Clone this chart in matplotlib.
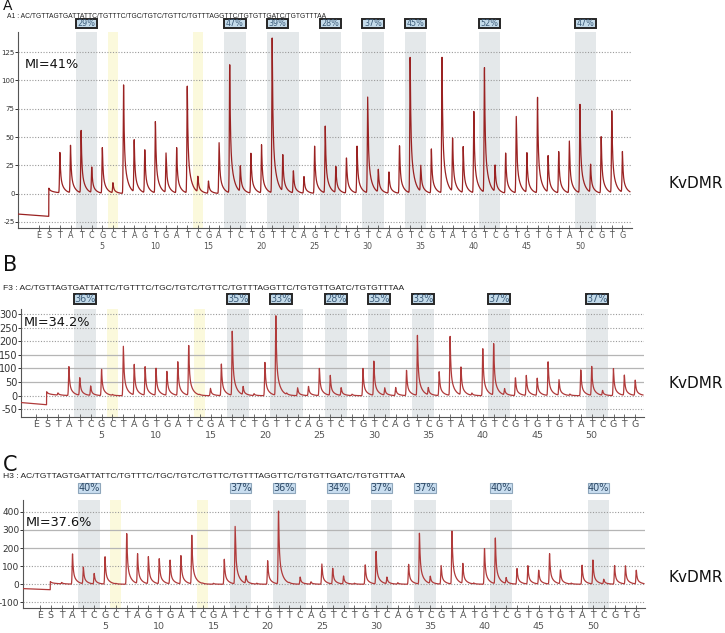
import numpy as np
import matplotlib
matplotlib.use("Agg")
import matplotlib.pyplot as plt
from matplotlib.patches import Rectangle
import matplotlib.transforms as mtransforms

plt.rcParams["axes.unicode_minus"] = False

# dispensation order after E (enzyme) and S (substrate)
dispensation = list("TATCGCTAGTGATCGATCTGTTCAGTCTGTCAGTCGTATGTCGTGTGTATCGTG")
positions = np.arange(1, len(dispensation) + 1)

# CpG sites (first and last dispensation of each shaded block) and bisulfite controls
cpg_sites = [(3, 4), (17, 18), (21, 23), (26, 27), (30, 31), (34, 35), (41, 42), (50, 51)]
control_sites = [6, 14]

sequence = "AC/TGTTAGTGATTATTC/TGTTTC/TGC/TGTC/TGTTC/TGTTTAGGTTC/TGTGTTGATC/TGTGTTTAA"
sample_names = ["A1", "F3", "H3"]
panel_letters = ["A", "B", "C"]
mi_labels = ["MI=41%", "MI=34.2%", "MI=37.6%"]

meth_a = [29, 47, 39, 28, 37, 45, 52, 47]
meth_b = [36, 35, 33, 28, 35, 33, 37, 37]
meth_c = [40, 37, 36, 34, 37, 37, 40, 40]

peaks_a = [36, 42, 55, 23, 41, 9, 96, 46, 39, 64,
           35, 40, 95, 14, 11, 45, 113, 23, 36, 43,
           137, 32, 20, 15, 42, 59, 23, 32, 42, 85,
           20, 19, 43, 121, 23, 39, 122, 48, 41, 72,
           110, 24, 36, 68, 35, 85, 33, 37, 46, 78,
           25, 51, 73, 36]
peaks_b = [8, 106, 66, 35, 96, 3, 182, 113, 106, 99,
           90, 124, 182, 2, 27, 117, 238, 30, 7, 123,
           291, 5, 29, 34, 101, 73, 29, 5, 100, 128,
           27, 30, 94, 220, 27, 88, 216, 104, 8, 174,
           191, 23, 67, 74, 63, 126, 57, 5, 96, 106,
           18, 100, 74, 57]
peaks_c = [8, 169, 92, 59, 151, 2, 287, 164, 151, 142,
           131, 158, 271, 2, 5, 138, 319, 42, 5, 131,
           411, 3, 40, 13, 112, 88, 44, 5, 110, 179,
           37, 8, 110, 284, 40, 103, 298, 110, 5, 202,
           252, 33, 88, 101, 77, 169, 77, 5, 105, 133,
           26, 103, 101, 77]

# signal before substrate (start, end) and substrate peak
pre_levels = [(-18, -20), (-25, -33), (-24, -30)]
substrate_peaks = [5, 15, 15]

yticks_all = [[-25, 0, 25, 50, 75, 100, 125],
              [-50, 0, 50, 100, 150, 200, 250, 300],
              [-100, 0, 100, 200, 300, 400]]
solid_grid = [[], [50, 100, 150], [200, 300]]
xlims = [(-2.95, 54.9), (-2.4, 54.8), (-2.57, 54.8)]
ylims = [(-30.3, 142.7), (-78, 318), (-131, 465)]

W, H = 725, 633
fig = plt.figure(figsize=(W / 100, H / 100), dpi=100)


def px_rect(l, t, r, b):
    return [l / W, 1 - b / H, (r - l) / W, (b - t) / H]


axes_px = [(18, 32, 632, 228), (21, 309, 644, 417), (23, 500, 645, 608)]
header_y = [16, 288, 477]
header_x = [7, 3, 3]
letter_y = [9.5, 271, 471]
letter_size = [10, 15, 15]
mi_xy = [(25, 64), (24, 322), (26, 522)]
kv_y = [183, 383, 577]
head_size = [4.9, 6.1, 6.1]
tick_size = [5, 7, 6.5]
xlab_size = [5.8, 6.8, 6.8]
box_size = [5.8, 7, 7]
trace_cols = ["#9a2222", "#b03a3a", "#b03a3a"]


def peak_shape(t):
    rise = np.exp(-(t / 0.05) ** 2)
    fall = 0.6 * np.exp(-t / 0.06) + 0.4 * np.exp(-t / 0.32)
    return np.where(t < 0, rise, fall)


for i, peaks in enumerate([peaks_a, peaks_b, peaks_c]):
    ax = fig.add_axes(px_rect(*axes_px[i]))
    x0, x1 = xlims[i]
    ax.set_xlim(x0, x1)
    ax.set_ylim(*ylims[i])

    # shaded CpG and control columns
    for a, b in cpg_sites:
        ax.axvspan(a - 0.5, b + 0.5, color="#e4e8ea", zorder=0, lw=0)
    for c in control_sites:
        ax.axvspan(c - 0.5, c + 0.5, color="#fbf9dc", zorder=0, lw=0)

    # grid
    for yv in yticks_all[i]:
        if yv in solid_grid[i]:
            ax.axhline(yv, color="#b5b5b5", lw=0.9, zorder=1)
        else:
            ax.axhline(yv, color="#9a9a9a", lw=0.8, ls=(0, (1, 1.5)), zorder=1)

    # pyrogram trace
    xs = np.linspace(x0 + 0.05, 54.7, 5000)
    ys = np.zeros_like(xs)
    pre0, pre1 = pre_levels[i]
    before = xs < -0.05
    ys[before] = np.interp(xs[before], [x0, -0.05], [pre0, pre1])
    s = xs - (-0.05)
    ys += substrate_peaks[i] * np.where(s >= 0, 0.4 * np.exp(-s / 0.1) + 0.6 * np.exp(-s / 0.8), 0)
    for p, h in zip(positions, peaks):
        ys += h * peak_shape(xs - p)
    ax.plot(xs, ys, color=trace_cols[i], lw=0.9, zorder=3)

    # percentage boxes
    bt = mtransforms.blended_transform_factory(ax.transData, ax.transAxes)
    ax_t, ax_b = axes_px[i][1], axes_px[i][3]
    ah = ax_b - ax_t
    if i == 0:
        y_lo, y_hi = (ax_b - 28) / ah, (ax_b - 19) / ah
    elif i == 1:
        y_lo, y_hi = (ax_b - 304) / ah, (ax_b - 294) / ah
    else:
        y_lo, y_hi = (ax_b - 493) / ah, (ax_b - 483) / ah
    meth = [meth_a, meth_b, meth_c][i]
    for (a, b), m in zip(cpg_sites, meth):
        if i < 2:
            fc, ec, lw, tc = "#c4dbea", "#262626", 1.4, "#3e5d7a"
        else:
            fc, ec, lw, tc = "#c9def0", "#8ea6bb", 0.8, "#2c4865"
        r = Rectangle((a - 0.5, y_lo), 2, y_hi - y_lo, transform=bt,
                      facecolor=fc, edgecolor=ec, lw=lw, clip_on=False, zorder=5)
        ax.add_patch(r)
        ax.text(a + 0.5, (y_lo + y_hi) / 2, f"{m}%", transform=bt, ha="center",
                va="center", fontsize=box_size[i], color=tc, zorder=6)

    # axes styling
    for side in ["top", "right"]:
        ax.spines[side].set_visible(False)
    ax.spines["left"].set_color("#555555")
    ax.spines["bottom"].set_color("#555555")
    ax.set_yticks(yticks_all[i])
    ax.tick_params(axis="y", labelsize=tick_size[i], colors="#333333", length=2, width=0.7, pad=0.5)
    xt = [-1, 0] + list(positions)
    xl = ["E", "S"] + [f"{d}\n{p}" if p % 5 == 0 else d for d, p in zip(dispensation, positions)]
    ax.set_xticks(xt)
    ax.set_xticklabels(xl, fontsize=xlab_size[i], color="#555555", linespacing=1.15)
    ax.tick_params(axis="x", direction="inout", length=4, width=0.6, colors="#555555", pad=0.5)

    # texts
    fig.text(header_x[i] / W, 1 - header_y[i] / H,
             f"{sample_names[i]} : {sequence}", fontsize=head_size[i],
             family=["Liberation Sans", "DejaVu Sans"], color="#222222",
             ha="left", va="center")
    fig.text(3 / W, 1 - letter_y[i] / H, panel_letters[i], fontsize=letter_size[i],
             color="#111111", ha="left", va="baseline")
    fig.text(mi_xy[i][0] / W, 1 - mi_xy[i][1] / H, mi_labels[i], fontsize=9.3,
             color="#111111", ha="left", va="center")
    fig.text(668 / W, 1 - kv_y[i] / H, "KvDMR", fontsize=11, color="#111111",
             ha="left", va="center")

fig.savefig("out.png", dpi=100)
